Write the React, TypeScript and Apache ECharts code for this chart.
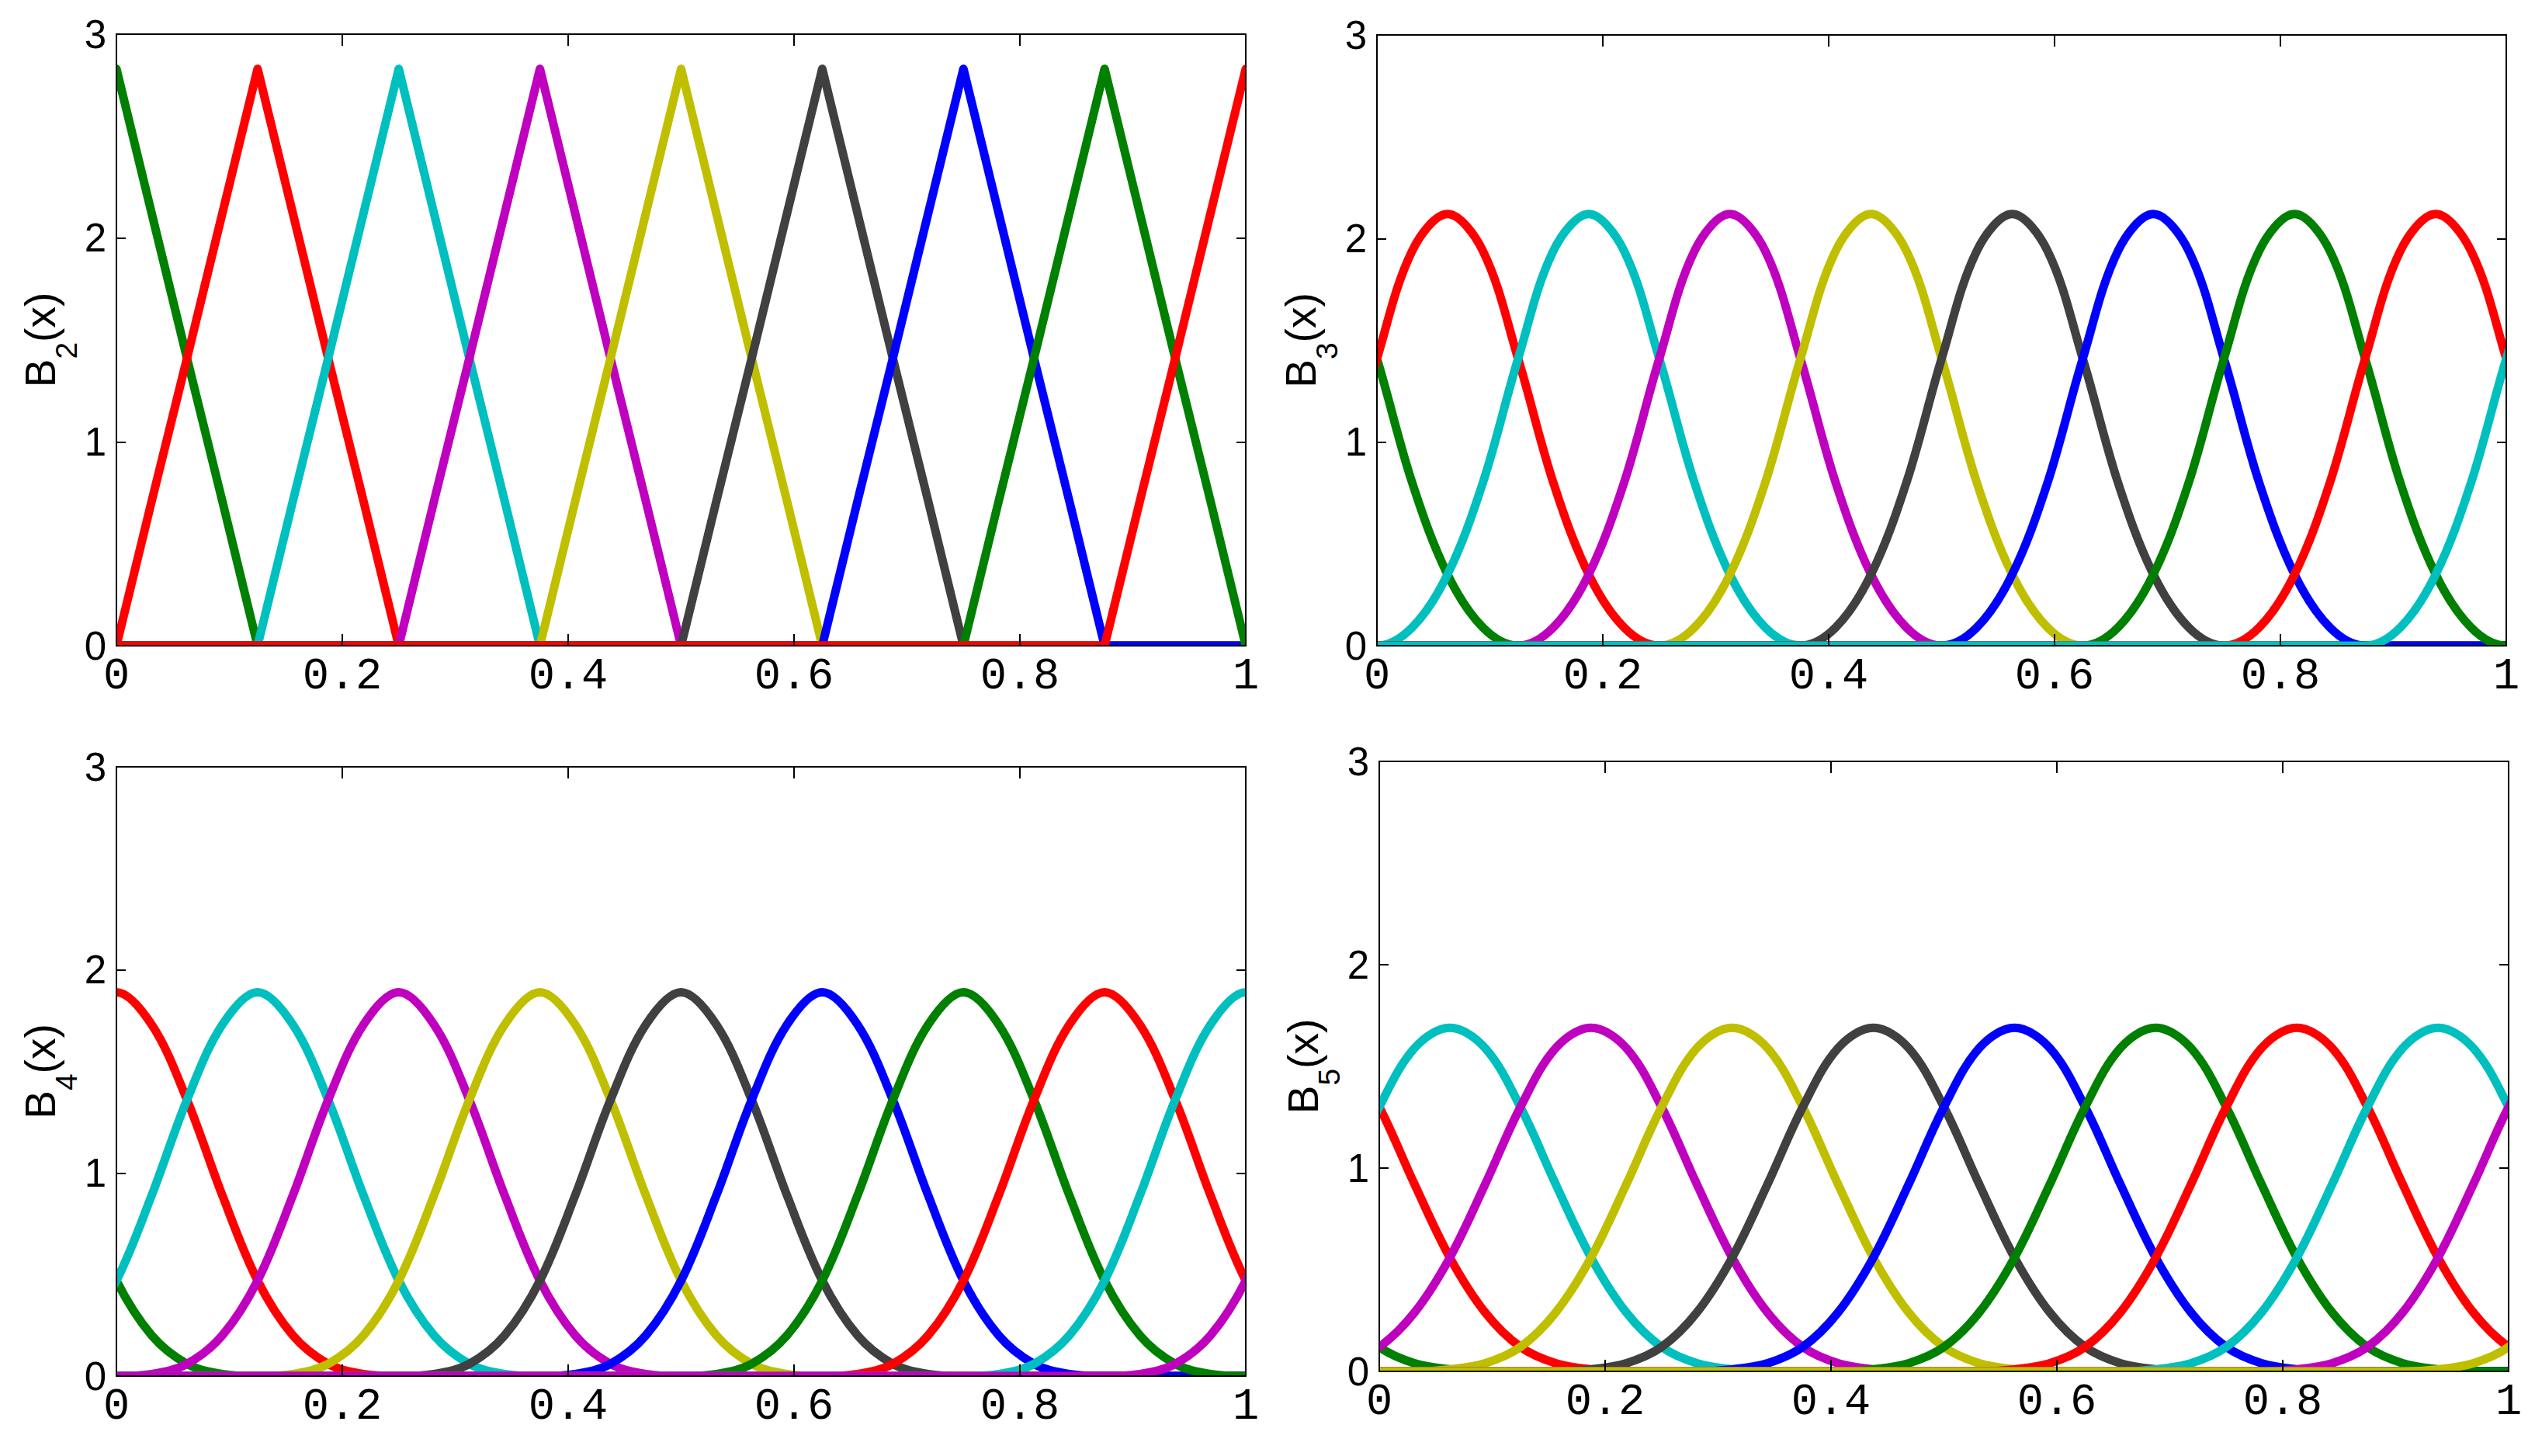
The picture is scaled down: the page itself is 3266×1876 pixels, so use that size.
import React, { useEffect, useRef } from "react";
import * as echarts from "echarts";

// Sampling step of the read profiles (x units)
const SAMPLE_STEP = 1 / 32;
// sample indices drawn: one extra sample beyond each end of [0, 1] so the
// smoothing is continuous at the box edges (the box clips it)
const SAMPLE_FIRST = -1;
const SAMPLE_LAST = 33;

const B2_PROFILE = [0, 0.71, 1.41, 2.12, 2.83, 2.12, 1.41, 0.71, 0];
const B3_PROFILE = [0, 0.09, 0.35, 0.8, 1.41, 1.94, 2.12, 1.94, 1.41, 0.8, 0.35, 0.09, 0];
const B4_PROFILE = [0, 0.01, 0.06, 0.2, 0.47, 0.89, 1.36, 1.73, 1.89, 1.73, 1.36, 0.89, 0.47, 0.2, 0.06, 0.01, 0];
const B5_PROFILE = [0, 0.0, 0.01, 0.04, 0.12, 0.29, 0.56, 0.92, 1.3, 1.59, 1.69, 1.59, 1.3, 0.92, 0.56, 0.29, 0.12, 0.04, 0.01, 0.0, 0];

// Left ends of the supports of the drawn functions, in drawing order
const B2_STARTS = [-0.25, -0.125, 0, 0.125, 0.25, 0.375, 0.5, 0.625, 0.75, 0.875];
const B3_STARTS = [-0.375, -0.25, -0.125, 0, 0.125, 0.25, 0.375, 0.5, 0.625, 0.75, 0.875];
const B4_STARTS = [-0.5, -0.375, -0.25, -0.125, 0, 0.125, 0.25, 0.375, 0.5, 0.625, 0.75, 0.875];
const B5_STARTS = [-0.625, -0.5, -0.375, -0.25, -0.125, 0, 0.125, 0.25, 0.375, 0.5, 0.625, 0.75, 0.875];

const ORDERS = ["2", "3", "4", "5"];
const COLORS = ["#0000ff", "#008000", "#ff0000", "#00bfbf", "#bf00bf", "#bfbf00", "#404040"];

const X_MIN = 0;
const X_MAX = 1;
const X_INTERVAL = 0.2;
const Y_MIN = 0;
const Y_MAX = 3;
const Y_INTERVAL = 1;

// Layout (px)
const GRIDS = [
  { left: 150, top: 44, width: 1455, height: 788 },
  { left: 1774, top: 45, width: 1455, height: 787 },
  { left: 150, top: 988, width: 1455, height: 785 },
  { left: 1777, top: 981, width: 1455, height: 786 },
];

const PANELS = [
  { profile: B2_PROFILE, starts: B2_STARTS, smooth: false },
  { profile: B3_PROFILE, starts: B3_STARTS, smooth: 0.35 },
  { profile: B4_PROFILE, starts: B4_STARTS, smooth: 0.35 },
  { profile: B5_PROFILE, starts: B5_STARTS, smooth: 0.35 },
];

const SANS = "'Liberation Sans', Arial, Helvetica, sans-serif";
const MONO = "'Liberation Mono', 'Courier New', monospace";

function buildData(profile: number[], start: number): number[][] {
  const offset = Math.round(start / SAMPLE_STEP);
  const out: number[][] = [];
  for (let k = SAMPLE_FIRST; k <= SAMPLE_LAST; k++) {
    const j = k - offset;
    const y = j >= 0 && j < profile.length ? profile[j] : 0;
    out.push([k * SAMPLE_STEP, y]);
  }
  return out;
}

function buildOption() {
  const grid: any[] = [];
  const xAxis: any[] = [];
  const yAxis: any[] = [];
  const series: any[] = [];
  const graphic: any[] = [];
  const axisLine = { show: true, onZero: false, lineStyle: { color: "#000", width: 2 } };

  GRIDS.forEach((g, gi) => {
    grid.push({ ...g, containLabel: false, outerBoundsMode: "none" });
    const xBase = {
      type: "value",
      gridIndex: gi,
      min: X_MIN,
      max: X_MAX,
      interval: X_INTERVAL,
      z: 12,
      axisLine,
      splitLine: { show: false },
      axisTick: { show: true, inside: true, length: 15, lineStyle: { color: "#000", width: 2 } },
    };
    xAxis.push({
      ...xBase,
      position: "bottom",
      axisLabel: {
        show: true,
        color: "#000",
        fontFamily: MONO,
        fontSize: 57,
        margin: 11,
        showMinLabel: true,
        showMaxLabel: true,
      },
    });
    xAxis.push({ ...xBase, position: "top", axisLabel: { show: false } });
    const yBase = {
      type: "value",
      gridIndex: gi,
      min: Y_MIN,
      max: Y_MAX,
      interval: Y_INTERVAL,
      z: 12,
      axisLine,
      splitLine: { show: false },
      axisTick: { show: true, inside: true, length: 12, lineStyle: { color: "#000", width: 2 } },
    };
    yAxis.push({
      ...yBase,
      position: "left",
      name: `{b|B}{s|${ORDERS[gi]}}{b|(x)}`,
      nameLocation: "middle",
      nameRotate: 90,
      nameGap: 45,
      nameTextStyle: {
        color: "#000",
        rich: {
          b: { fontFamily: SANS, fontSize: 55, color: "#000" },
          s: { fontFamily: SANS, fontSize: 39, color: "#000", padding: [66, 0, 0, 0] },
        },
      },
      axisLabel: { show: true, color: "#000", fontFamily: SANS, fontSize: 51, margin: 13 },
    });
    yAxis.push({ ...yBase, position: "right", axisLabel: { show: false } });

    const p = PANELS[gi];
    p.starts.forEach((s, si) => {
      const color = COLORS[si % COLORS.length];
      series.push({
        type: "line",
        xAxisIndex: gi * 2,
        yAxisIndex: gi * 2,
        data: buildData(p.profile, s),
        smooth: p.smooth,
        symbol: "none",
        showSymbol: false,
        silent: true,
        clip: true,
        z: 2,
        lineStyle: { color, width: 11, join: "round", cap: "butt" },
        itemStyle: { color },
        emphasis: { disabled: true },
      });
    });

    // white strips outside the plot box to clip the thick strokes at the box
    const t = 9;
    const strips = [
      { x: g.left - t, y: g.top - t, width: g.width + 2 * t, height: t },
      { x: g.left - t, y: g.top + g.height, width: g.width + 2 * t, height: t },
      { x: g.left - t, y: g.top - t, width: t, height: g.height + 2 * t },
      { x: g.left + g.width, y: g.top - t, width: t, height: g.height + 2 * t },
    ];
    strips.forEach((r) =>
      graphic.push({ type: "rect", shape: r, style: { fill: "#fff" }, z: 10, silent: true })
    );
  });

  return {
    animation: false,
    backgroundColor: "#fff",
    grid,
    xAxis,
    yAxis,
    series,
    graphic,
  };
}

export default function App() {
  const ref = useRef<HTMLDivElement>(null);
  useEffect(() => {
    document.body.style.margin = "0";
    if (!ref.current) return;
    const chart = echarts.init(ref.current, null, { renderer: "svg" });
    chart.setOption(buildOption() as any);
    return () => chart.dispose();
  }, []);
  return (
    <div
      ref={ref}
      style={{ position: "absolute", left: 0, top: 0, width: 3266, height: 1876, background: "#fff" }}
    />
  );
}
